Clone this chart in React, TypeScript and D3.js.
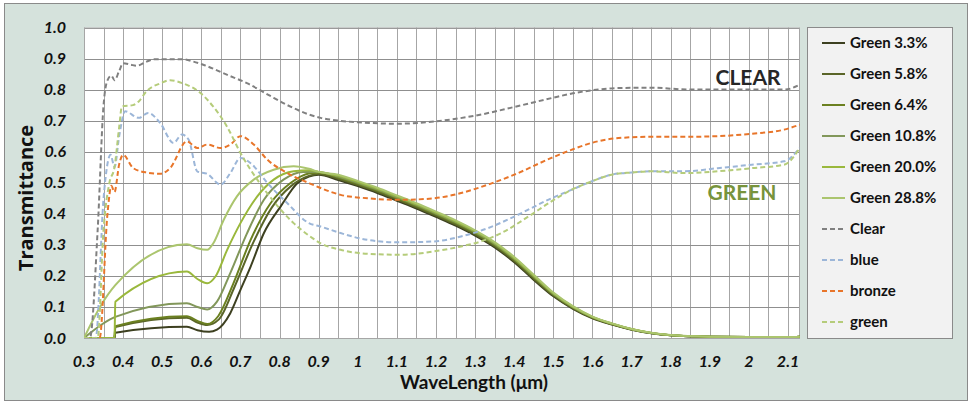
import React from "react";
import * as d3 from "d3";

const W = 973;
const H = 404;

const yTicks = [0, 0.1, 0.2, 0.3, 0.4, 0.5, 0.6, 0.7, 0.8, 0.9, 1.0];
const xTicks = [0.3, 0.4, 0.5, 0.6, 0.7, 0.8, 0.9, 1, 1.1, 1.2, 1.3, 1.4, 1.5, 1.6, 1.7, 1.8, 1.9, 2, 2.1];

// shared tail of the solid green curves (wavelength > 0.9 µm)
const tailWl = [0.95, 1.0, 1.05, 1.1, 1.15, 1.2, 1.25, 1.3, 1.35, 1.4, 1.45, 1.5, 1.55, 1.6, 1.65, 1.7, 1.75, 1.8, 1.9, 2.0, 2.1, 2.13];
const tailV = [0.517, 0.497, 0.475, 0.45, 0.425, 0.398, 0.37, 0.338, 0.3, 0.252, 0.195, 0.14, 0.098, 0.066, 0.045, 0.028, 0.016, 0.009, 0.004, 0.003, 0.003, 0.004];

const g33Wl = [0.3, 0.378, 0.38, 0.563, 0.59, 0.62, 0.64, 0.674, 0.7, 0.726, 0.76, 0.803, 0.846, 0.875, 0.9];
const g33V = [0, 0, 0.017, 0.036, 0.025, 0.02, 0.027, 0.08, 0.155, 0.23, 0.338, 0.424, 0.499, 0.52, 0.526];

const g58Wl = [0.3, 0.378, 0.38, 0.563, 0.59, 0.615, 0.645, 0.685, 0.73, 0.78, 0.83, 0.875, 0.9];
const g58V = [0, 0, 0.035, 0.065, 0.05, 0.042, 0.06, 0.165, 0.3, 0.42, 0.49, 0.522, 0.528];

const g64Wl = [0.3, 0.378, 0.38, 0.563, 0.59, 0.615, 0.643, 0.682, 0.726, 0.777, 0.828, 0.875, 0.9];
const g64V = [0, 0, 0.038, 0.07, 0.055, 0.045, 0.07, 0.176, 0.316, 0.434, 0.499, 0.53, 0.532];

const g108Wl = [0.3, 0.38, 0.563, 0.59, 0.615, 0.64, 0.674, 0.717, 0.76, 0.81, 0.86, 0.9];
const g108V = [0, 0.068, 0.112, 0.1, 0.092, 0.117, 0.209, 0.338, 0.445, 0.51, 0.535, 0.535];

const g200Wl = [0.3, 0.378, 0.38, 0.563, 0.59, 0.615, 0.636, 0.666, 0.7, 0.743, 0.785, 0.836, 0.875, 0.9];
const g200V = [0, 0, 0.117, 0.214, 0.19, 0.176, 0.198, 0.284, 0.37, 0.456, 0.51, 0.537, 0.54, 0.535];

const g288Wl = [0.3, 0.341, 0.38, 0.563, 0.59, 0.615, 0.631, 0.657, 0.691, 0.734, 0.785, 0.836, 0.875, 0.9];
const g288V = [0, 0.1, 0.17, 0.302, 0.289, 0.284, 0.306, 0.38, 0.456, 0.51, 0.542, 0.553, 0.545, 0.535];

const clearWl = [0.3, 0.315, 0.335, 0.35, 0.36, 0.37, 0.378, 0.39, 0.4, 0.42, 0.435, 0.46, 0.48, 0.55, 0.58, 0.605, 0.665, 0.718, 0.77, 0.82, 0.875, 0.905, 0.95, 1.0, 1.1, 1.2, 1.3, 1.4, 1.5, 1.55, 1.6, 1.667, 1.75, 1.85, 1.95, 2.09, 2.13];
const clearV = [0, 0, 0.35, 0.75, 0.83, 0.845, 0.83, 0.86, 0.885, 0.88, 0.877, 0.89, 0.898, 0.898, 0.89, 0.88, 0.848, 0.82, 0.784, 0.75, 0.72, 0.709, 0.7, 0.695, 0.69, 0.698, 0.716, 0.744, 0.774, 0.788, 0.798, 0.805, 0.806, 0.8, 0.8, 0.8, 0.816];

const blueWl = [0.3, 0.33, 0.35, 0.368, 0.378, 0.39, 0.405, 0.44, 0.464, 0.495, 0.529, 0.55, 0.567, 0.59, 0.615, 0.649, 0.674, 0.7, 0.726, 0.769, 0.82, 0.875, 0.905, 0.956, 1.025, 1.11, 1.195, 1.264, 1.333, 1.4, 1.495, 1.546, 1.597, 1.649, 1.7, 1.75, 1.836, 1.92, 2.007, 2.09, 2.13];
const blueV = [0, 0, 0.45, 0.59, 0.55, 0.65, 0.73, 0.709, 0.725, 0.692, 0.628, 0.655, 0.64, 0.536, 0.529, 0.494, 0.531, 0.58, 0.563, 0.499, 0.434, 0.37, 0.359, 0.338, 0.316, 0.308, 0.311, 0.327, 0.354, 0.391, 0.45, 0.477, 0.504, 0.526, 0.533, 0.537, 0.537, 0.547, 0.558, 0.569, 0.612];

const bronzeWl = [0.3, 0.34, 0.36, 0.37, 0.378, 0.39, 0.4, 0.426, 0.46, 0.495, 0.52, 0.563, 0.59, 0.615, 0.649, 0.674, 0.7, 0.734, 0.769, 0.82, 0.875, 0.905, 0.956, 1.025, 1.11, 1.195, 1.264, 1.333, 1.4, 1.495, 1.546, 1.597, 1.667, 1.75, 1.836, 1.92, 2.007, 2.09, 2.13];
const bronzeV = [0, 0, 0.4, 0.49, 0.47, 0.56, 0.59, 0.547, 0.533, 0.529, 0.547, 0.633, 0.612, 0.623, 0.612, 0.623, 0.65, 0.623, 0.574, 0.531, 0.499, 0.483, 0.461, 0.45, 0.445, 0.45, 0.467, 0.494, 0.526, 0.58, 0.606, 0.628, 0.644, 0.648, 0.648, 0.65, 0.658, 0.671, 0.687];

const greenWl = [0.3, 0.335, 0.35, 0.365, 0.378, 0.39, 0.397, 0.425, 0.44, 0.46, 0.495, 0.52, 0.553, 0.597, 0.63, 0.666, 0.7, 0.743, 0.785, 0.836, 0.875, 0.905, 0.956, 1.025, 1.11, 1.195, 1.264, 1.315, 1.367, 1.436, 1.495, 1.546, 1.597, 1.649, 1.7, 1.75, 1.836, 1.92, 2.007, 2.09, 2.13];
const greenV = [0, 0, 0.35, 0.5, 0.55, 0.68, 0.746, 0.75, 0.762, 0.795, 0.82, 0.83, 0.82, 0.79, 0.746, 0.68, 0.596, 0.51, 0.44, 0.37, 0.33, 0.305, 0.284, 0.271, 0.268, 0.279, 0.295, 0.311, 0.338, 0.391, 0.44, 0.477, 0.504, 0.526, 0.533, 0.537, 0.531, 0.537, 0.547, 0.558, 0.612];

const seriesNames = ["Green 3.3%", "Green 5.8%", "Green 6.4%", "Green 10.8%", "Green 20.0%", "Green 28.8%", "Clear", "blue", "bronze", "green"];
const seriesColors = ["#3d4020", "#5a6528", "#6b8020", "#82975a", "#9ab83c", "#abc56e", "#808080", "#9cb6d8", "#e8752a", "#b5cc7a"];
const seriesDashed = [false, false, false, false, false, false, true, true, true, true];
const tailOffsets = [-0.008, -0.004, 0, 0.003, 0.006, 0.009];

function withTail(wl: number[], v: number[], offset: number): [number, number][] {
  const pts: [number, number][] = wl.map((w, i) => [w, v[i]]);
  tailWl.forEach((w, i) => pts.push([w, Math.max(0, tailV[i] + offset * Math.min(1, tailV[i] / 0.2))]));
  return pts;
}
function zip(wl: number[], v: number[]): [number, number][] {
  return wl.map((w, i) => [w, v[i]]);
}

const seriesData: [number, number][][] = [
  withTail(g33Wl, g33V, tailOffsets[0]),
  withTail(g58Wl, g58V, tailOffsets[1]),
  withTail(g64Wl, g64V, tailOffsets[2]),
  withTail(g108Wl, g108V, tailOffsets[3]),
  withTail(g200Wl, g200V, tailOffsets[4]),
  withTail(g288Wl, g288V, tailOffsets[5]),
  zip(clearWl, clearV),
  zip(blueWl, blueV),
  zip(bronzeWl, bronzeV),
  zip(greenWl, greenV),
];

export default function App() {
  const left = 84, right = 799, top = 27.5, bottom = 338;
  const x = d3.scaleLinear().domain([0.3, 2.128]).range([left, right]);
  const y = d3.scaleLinear().domain([0, 1]).range([bottom, top]);
  const line = d3.line<[number, number]>().x((d) => x(d[0])).y((d) => y(d[1])).curve(d3.curveMonotoneX);
  const vGrid = d3.range(0.3, 2.13, 0.05).map((v) => Math.round(v * 100) / 100);
  const font = "Lato, 'Liberation Sans', sans-serif";

  return (
    <svg width={W} height={H} style={{ position: "absolute", left: 0, top: 0 }} fontFamily={font}>
      <rect x={0} y={0} width={W} height={H} fill="#ffffff" />
      <rect x={4.5} y={3.5} width={963} height={397} fill="#d5e2dc" stroke="#8a8a8a" />
      <rect x={left} y={top} width={right - left} height={bottom - top} fill="#ffffff" />
      <defs>
        <clipPath id="plotclip">
          <rect x={left} y={top - 2} width={right - left + 1} height={bottom - top + 2} />
        </clipPath>
      </defs>
      {vGrid.map((v) => (
        <line key={"v" + v} x1={Math.round(x(v)) + 0.5} x2={Math.round(x(v)) + 0.5} y1={top} y2={bottom} stroke="#a6a6a6" strokeWidth={1} />
      ))}
      {yTicks.map((v) => (
        <line key={"h" + v} x1={left} x2={right} y1={Math.round(y(v)) + 0.5} y2={Math.round(y(v)) + 0.5} stroke="#8f8f8f" strokeWidth={1} />
      ))}
      <rect x={left + 0.5} y={top + 0.5} width={right - left} height={bottom - top} fill="none" stroke="#a6a6a6" />
      <g clipPath="url(#plotclip)">
        {seriesData.map((d, i) => (
          <path
            key={seriesNames[i]}
            d={line(d) || ""}
            fill="none"
            stroke={seriesColors[i]}
            strokeWidth={2}
            strokeDasharray={seriesDashed[i] ? "5,3" : undefined}
            strokeLinejoin="round"
          />
        ))}
      </g>
      {yTicks.map((v) => (
        <text key={"yl" + v} x={66} y={y(v) + 5.5} textAnchor="end" fontSize={16} fontWeight="bold" fontStyle="italic" fill="#111">
          {v.toFixed(1)}
        </text>
      ))}
      {xTicks.map((v) => (
        <text key={"xl" + v} x={x(v)} y={367} textAnchor="middle" fontSize={16} fontWeight="bold" fontStyle="italic" fill="#111">
          {String(v)}
        </text>
      ))}
      <text x={474} y={389} textAnchor="middle" fontSize={19} fontWeight="bold" fill="#111">
        WaveLength (μm)
      </text>
      <text transform="translate(33,198) rotate(-90)" textAnchor="middle" fontSize={20} fontWeight="bold" fill="#111" fontFamily="'Open Sans', Lato, sans-serif">
        Transmittance
      </text>
      <text x={748} y={85} textAnchor="middle" fontSize={21} fontWeight="bold" fill="#262626">
        CLEAR
      </text>
      <text x={742} y={200} textAnchor="middle" fontSize={21} fontWeight="bold" fill="#77933c">
        GREEN
      </text>
      <rect x={807.5} y={27.5} width={145} height={311} fill="#f2f2f2" stroke="#8a8a8a" />
      {seriesNames.map((name, i) => {
        const cy = 43 + i * 31;
        return (
          <g key={"lg" + name}>
            <line x1={822} x2={845} y1={cy} y2={cy} stroke={seriesColors[i]} strokeWidth={2} strokeDasharray={seriesDashed[i] ? "5,3" : undefined} />
            <text x={850} y={cy + 5} fontSize={15} fontWeight="bold" fill="#111">
              {name}
            </text>
          </g>
        );
      })}
    </svg>
  );
}
